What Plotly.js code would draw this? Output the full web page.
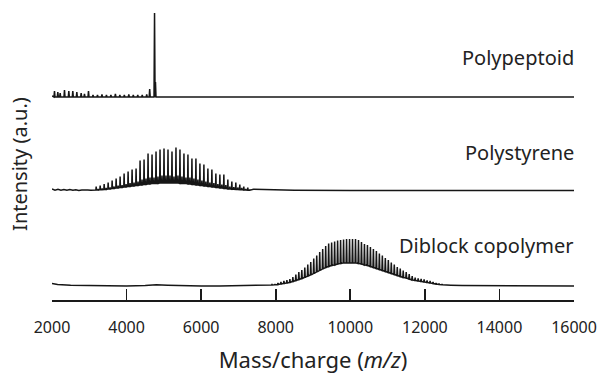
<!DOCTYPE html>
<html>
<head>
<meta charset="utf-8">
<script src="https://cdn.plot.ly/plotly-3.0.1.min.js"></script>
<style>html,body{margin:0;padding:0;background:#fff;}#chart{width:600px;height:376px;}</style>
</head>
<body>
<div id="chart"></div>
<script>
// ---------- data ----------
const xTickVals = [2000, 4000, 6000, 8000, 10000, 12000, 14000, 16000];
const seriesNames = ['Polypeptoid', 'Polystyrene', 'Diblock copolymer'];

// Polypeptoid: stick peaks (m/z, height above baseline, a.u.)
const ppPeakMz = [2067, 2156, 2219, 2335, 2451, 2558, 2666, 2782, 2871, 2979, 3100, 3220, 3340, 3460, 3580, 3700, 3820, 3940, 4060, 4180, 4300, 4420, 4540, 4620, 4750, 4775];
const ppPeakH  = [6, 5, 4, 7, 6, 6, 5, 4, 3, 6, 2, 2, 2.5, 2, 2, 3, 2, 2, 2.5, 2, 2, 2, 2.5, 8, 84, 15];

// Polystyrene: baseline noise, main series, minor series, valleys
const psNoiseMz = [2000, 2080, 2160, 2240, 2320, 2400, 2480, 2560, 2640, 2720, 2800, 2880, 2960, 3040, 3120];
const psNoiseY  = [1.5, 0.4, 1.2, 0.3, 1.0, 0.2, 0.9, 0.3, 0.7, 0.1, 0.6, 0.2, 0.5, 0.3, 0.8];
const psPeakMz = [3185, 3292, 3399, 3506, 3613, 3720, 3827, 3934, 4041, 4148, 4255, 4362, 4469, 4576, 4683, 4790, 4897, 5004, 5111, 5218, 5325, 5432, 5539, 5646, 5753, 5860, 5967, 6074, 6181, 6288, 6395, 6502, 6609, 6716, 6823, 6930, 7037, 7144, 7251];
const psTop = [4, 5, 6.5, 8, 10, 12, 14, 17, 19, 21, 22, 30, 31, 37, 36, 39, 41, 42, 41, 39, 43, 41, 37, 36, 32, 32, 27, 26, 22, 21, 17, 16, 16, 11, 9, 8, 6, 4, 3];
const psMid = [1.5, 2, 2.5, 3, 4, 5, 5.5, 6.5, 7.5, 8, 9, 11, 12, 13, 13, 14, 15, 15, 15, 14, 15, 14, 13, 13, 12, 11, 10, 9, 8, 7.5, 6.5, 6, 5.5, 4, 3.5, 3, 2.5, 1.5, 1];
const psLow = [0.5, 0.8, 1, 1.5, 2, 2.5, 3, 3.5, 4, 4.5, 5, 5.5, 6, 6.5, 7, 7, 7.5, 7.5, 7.5, 7.5, 7.5, 7, 7, 6.5, 6, 5.5, 5, 4.5, 4, 3.5, 3, 2.5, 2, 1.5, 1.2, 1, 0.8, 0.5, 0.3];
const psTailMz = [7400, 7800, 8500, 10000, 16000];
const psTailY  = [1.2, 0.6, 0.3, 0, 0];

// Diblock copolymer: baseline, peak series (top / valley), tail
const diBaseMz = [2000, 2150, 2500, 3000, 3500, 4000, 4500, 4800, 5100, 5500, 6000, 6500, 7000, 7500, 7800];
const diBaseY  = [2.5, 1.4, 0.8, 0.4, 0.2, 0.1, 0.6, 1.2, 0.8, 0.2, 0, 0, 0.1, 0.3, 0.8];
const diPeakMz = [7900, 7980, 8060, 8140, 8220, 8300, 8380, 8460, 8540, 8620, 8700, 8780, 8860, 8940, 9020, 9100, 9180, 9260, 9340, 9420, 9500, 9580, 9660, 9740, 9820, 9900, 9980, 10060, 10140, 10220, 10300, 10380, 10460, 10540, 10620, 10700, 10780, 10860, 10940, 11020, 11100, 11180, 11260, 11340, 11420, 11500, 11580, 11660, 11740, 11820, 11900, 11980, 12060, 12140, 12220, 12300, 12380, 12460, 12540];
const diTop = [1.5, 2, 3, 4, 5, 6, 7, 9, 11.5, 14, 16, 18.5, 21.5, 24, 27.5, 30.5, 34, 37, 40, 42.5, 43.5, 44.5, 45.5, 46, 46.5, 47, 47, 47, 47, 46, 44, 42, 41, 39, 37, 35, 32.5, 30.5, 28, 26, 23.5, 21.5, 19, 17.5, 15.5, 14, 12, 10, 8.5, 7.5, 7, 6.5, 5.5, 5, 4, 3, 2.5, 2, 1.5];
const diVal = [1, 1.2, 1.5, 2, 2.5, 3, 3.5, 4.5, 5.5, 6.5, 7.5, 8.5, 10, 11, 12.5, 14, 15.5, 17, 18.5, 19.5, 20.5, 21, 22, 22.5, 23, 23, 23, 23, 23, 22.5, 22, 21, 20.5, 19.5, 18.5, 17.5, 16.5, 15.5, 14.5, 13.5, 12.5, 11.5, 10.5, 9.5, 8.5, 8, 7, 6, 5.5, 5, 4.5, 4, 3.5, 3, 2.5, 2, 1.5, 1.2, 1];
const diTailMz = [12700, 13000, 13500, 14000, 15000, 16000];
const diTailY  = [0.8, 0.5, 0.3, 0.1, 0, -0.1];

// ---------- layout constants (stack offsets, not data) ----------
const OFF = [203, 109.5, 14];
const INK = '#161616';

// ---------- build traces ----------
function polypeptoid() {
  const x = [2000], y = [1];
  const w = 14;
  for (let i = 0; i < ppPeakMz.length; i++) {
    x.push(ppPeakMz[i] - w, ppPeakMz[i], ppPeakMz[i] + w);
    y.push(0, ppPeakH[i], 0);
  }
  x.push(16000); y.push(0);
  return {x, y: y.map(v => v + OFF[0])};
}
function polystyrene() {
  const x = psNoiseMz.slice(), y = psNoiseY.slice();
  for (let i = 0; i < psPeakMz.length; i++) {
    const m = psPeakMz[i];
    x.push(m - 9, m, m + 9, m + 44, m + 53, m + 62);
    y.push(psLow[i], psTop[i], psLow[i], psLow[i], psMid[i], psLow[i]);
  }
  x.push(...psTailMz); y.push(...psTailY);
  return {x, y: y.map(v => v + OFF[1])};
}
function diblock() {
  const x = diBaseMz.slice(), y = diBaseY.slice();
  for (let i = 0; i < diPeakMz.length; i++) {
    const m = diPeakMz[i];
    x.push(m - 12, m, m + 12);
    y.push(diVal[i], diTop[i], diVal[i]);
  }
  x.push(...diTailMz); y.push(...diTailY);
  return {x, y: y.map(v => v + OFF[2])};
}

const built = [polypeptoid(), polystyrene(), diblock()];
const traces = built.map((d, i) => ({
  type: 'scatter', mode: 'lines', x: d.x, y: d.y, name: seriesNames[i],
  line: {color: INK, width: 1.5}, hoverinfo: 'skip'
}));

const labelY = [243, 148, 55];
const annotations = seriesNames.map((t, i) => ({
  text: t, xref: 'paper', x: 1, xanchor: 'right', xshift: 2, yref: 'y', y: labelY[i], yanchor: 'middle',
  showarrow: false, font: {family: 'Noto Sans, sans-serif', size: 20, color: '#222'}
}));
annotations.push({
  text: 'Intensity (a.u.)', xref: 'paper', x: 0, xanchor: 'center', xshift: -32,
  yref: 'paper', y: 0.477, yanchor: 'middle', yshift: -7, textangle: -90, showarrow: false,
  font: {family: 'Noto Sans, sans-serif', size: 20, color: '#222'}
});

const layout = {
  width: 600, height: 376,
  margin: {l: 52, r: 26, t: 0, b: 76},
  paper_bgcolor: '#fff', plot_bgcolor: '#fff',
  showlegend: false,
  font: {family: 'Noto Sans, sans-serif', color: '#222'},
  xaxis: {
    range: [2000, 16000], tickvals: xTickVals, ticktext: xTickVals.map(String),
    ticks: 'inside', ticklen: 11, tickwidth: 1.8, tickcolor: '#1a1a1a',
    showline: true, linewidth: 1.8, linecolor: '#1a1a1a',
    showgrid: false, zeroline: false,
    ticklabelstandoff: 12,
    tickfont: {size: 16, color: '#222'},
    title: {text: 'Mass/charge (<i>m/z</i>)', font: {size: 22, color: '#222'}, standoff: 15}
  },
  yaxis: {range: [0, 300], visible: false, fixedrange: true},
  annotations
};

Plotly.newPlot('chart', traces, layout, {staticPlot: true, displayModeBar: false});
</script>
</body>
</html>
